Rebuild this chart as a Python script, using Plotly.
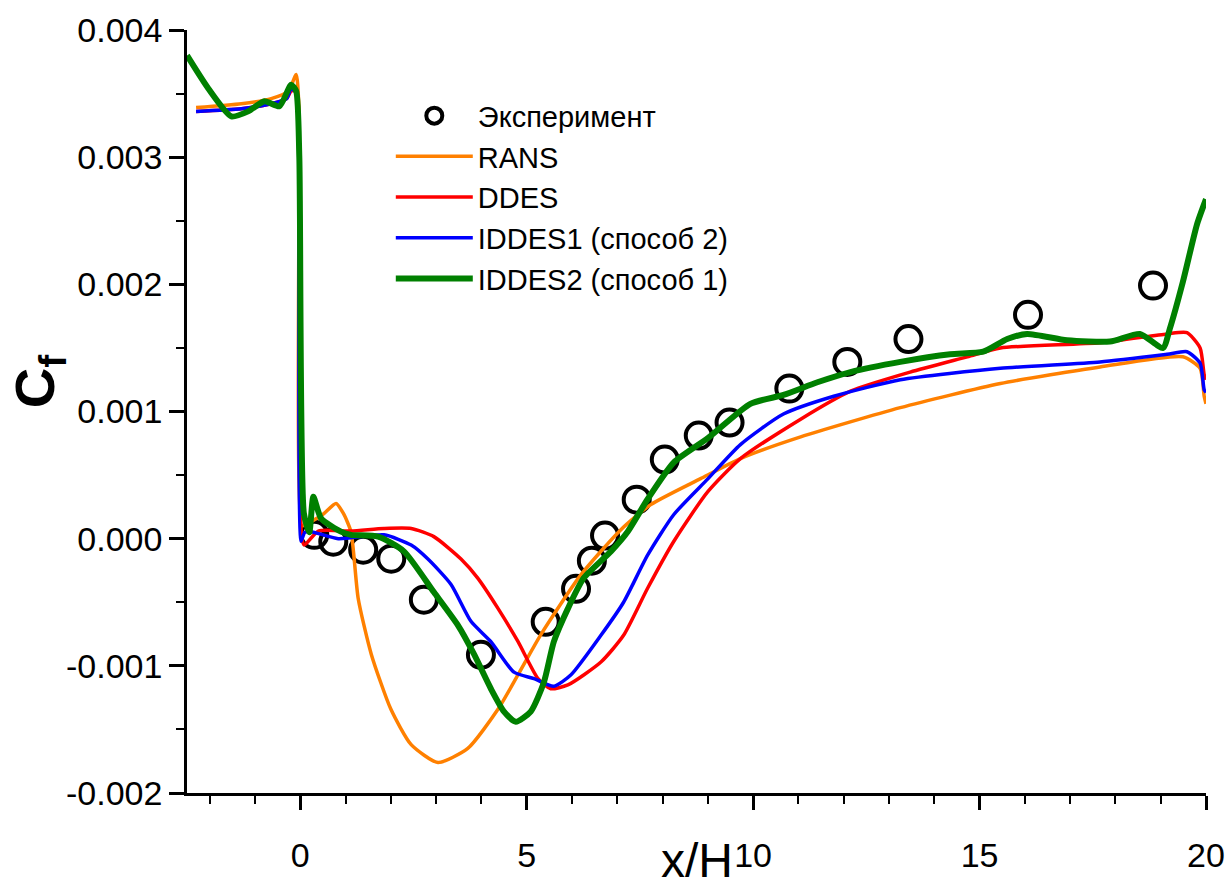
import plotly.graph_objects as go

# ---------------- data ----------------
exp_x = [0.31, 0.73, 1.39, 2.01, 2.73, 3.99, 5.42, 6.09, 6.44, 6.73, 7.43, 8.05, 8.80, 9.48, 10.80, 12.08, 13.43, 16.07, 18.83]
exp_cf = [0.00003, -0.000024, -0.000087, -0.000157, -0.00048, -0.000913, -0.000654, -0.000394, -0.000173, 0.000024,
          0.000307, 0.000622, 0.000811, 0.000913, 0.00118, 0.00139, 0.00157, 0.00176, 0.00199]

rans_x = [-2.3, -1.3, -0.64, -0.26, -0.09, -0.03, 0.03, 0.1, 0.24, 0.5, 0.79, 0.95, 1.12, 1.28, 1.57, 2.0, 2.45,
          3.04, 3.70, 4.37, 4.81, 5.31, 6.20, 7.08, 7.74, 8.84, 9.72, 11.05, 13.25, 15.46, 17.66, 19.49, 19.87, 19.96, 20.0]
rans_cf = [0.00339, 0.00342, 0.00346, 0.00352, 0.00365, 0.0034, 0.0001, 0.00011, 0.000134, 0.00019, 0.000276, 0.0002,
           0.000055, -0.00047, -0.00091, -0.00134, -0.00162, -0.00176, -0.00165, -0.00134, -0.00107, -0.000756,
           -0.000283, 0.000071, 0.000268, 0.000472, 0.00063, 0.0008, 0.00103, 0.00122, 0.00135, 0.00143, 0.00134,
           0.00112, 0.00106]

ddes_x = [-2.3, -1.3, -0.64, -0.3, -0.2, -0.08, -0.03, 0.03, 0.09, 0.4, 1.12, 1.85, 2.45, 2.95, 3.55, 3.92, 4.37,
          4.81, 5.25, 5.53, 5.91, 6.64, 7.14, 7.67, 8.25, 9.0, 9.72, 11.05, 12.15, 13.47, 14.73, 15.46, 17.66,
          19.14, 19.58, 19.87, 19.96, 20.0]
ddes_cf = [0.00336, 0.00338, 0.00342, 0.00346, 0.00352, 0.00352, 0.0033, 0.00002, -0.00005, 0.00006, 0.00006,
           0.00008, 0.00008, 0.000016, -0.00016, -0.00031, -0.00055, -0.00081, -0.0011, -0.00118, -0.00115,
           -0.00097, -0.00076, -0.00039, -0.00002, 0.00037, 0.00063, 0.00094, 0.00116, 0.00131, 0.00143, 0.0015,
           0.00154, 0.00161, 0.00162, 0.0015, 0.00129, 0.00125]

iddes1_x = [-2.3, -1.3, -0.64, -0.3, -0.2, -0.08, -0.03, 0.02, 0.1, 0.24, 0.84, 1.85, 2.45, 2.82, 3.33, 3.77, 4.21,
            4.72, 5.16, 5.6, 5.98, 6.64, 7.14, 7.67, 8.25, 9.0, 9.72, 10.67, 11.78, 13.25, 15.46, 17.66, 19.14,
            19.58, 19.87, 19.96, 20.0]
iddes1_cf = [0.00336, 0.00338, 0.00342, 0.00346, 0.00354, 0.0035, 0.0032, -0.00002, 0.00005, 0.000055, 0.0, 0.00003,
             -0.00005, -0.00016, -0.00036, -0.00065, -0.00081, -0.00105, -0.0011, -0.00116, -0.00107, -0.00076,
             -0.0005, -0.00013, 0.00019, 0.00047, 0.00074, 0.00098, 0.00112, 0.00125, 0.00134, 0.00139, 0.00145,
             0.00147, 0.00138, 0.00117, 0.00115]

iddes2_x = [-2.5, -2.03, -1.52, -1.15, -0.79, -0.46, -0.2, -0.09, -0.02, 0.08, 0.2, 0.29, 0.46, 0.9, 1.12, 1.72,
            2.29, 2.95, 3.48, 3.84, 4.21, 4.5, 4.76, 5.09, 5.38, 5.6, 5.91, 6.26, 6.86, 7.23, 7.67, 8.25, 9.0, 9.94,
            10.67, 11.42, 12.15, 13.25, 14.35, 15.08, 15.61, 16.05, 16.93, 17.88, 18.54, 19.05, 19.2, 19.49,
            19.8, 20.0]
iddes2_cf = [0.0038, 0.00354, 0.00332, 0.00336, 0.00344, 0.0034, 0.00357, 0.00352, 0.0030, 0.0002, 0.00005,
             0.00033, 0.00016, 0.000055, 0.00003, 0.000016, -0.0001, -0.00042, -0.00068, -0.00091, -0.00118,
             -0.00136, -0.00144, -0.00136, -0.00113, -0.00081, -0.00055, -0.00031, -0.0001, 0.000055, 0.00031,
             0.0006, 0.00079, 0.00106, 0.00113, 0.00123, 0.00131, 0.00139, 0.00145, 0.00147, 0.00157,
             0.00161, 0.00156, 0.00155, 0.00161, 0.0015, 0.00165, 0.00202, 0.00247, 0.00267]

y_tickvals = [-0.002, -0.001, 0.0, 0.001, 0.002, 0.003, 0.004]
y_ticktext = ["-0.002", "-0.001", "0.000", "0.001", "0.002", "0.003", "0.004"]
x_tickvals = [0, 5, 10, 15, 20]
x_ticktext = ["0", "5", "10", "15", "20"]

FONT = "Liberation Sans, Arial, sans-serif"

fig = go.Figure()
fig.add_trace(go.Scatter(x=exp_x, y=exp_cf, mode="markers", name="Эксперимент",
                         marker=dict(symbol="circle-open", size=26, color="black", line=dict(width=4, color="black"))))
fig.add_trace(go.Scatter(x=rans_x, y=rans_cf, mode="lines", name="RANS",
                         line=dict(color="rgb(255,128,0)", width=3.5, shape="spline", smoothing=0.6)))
fig.add_trace(go.Scatter(x=ddes_x, y=ddes_cf, mode="lines", name="DDES",
                         line=dict(color="rgb(255,0,0)", width=3.5, shape="spline", smoothing=0.6)))
fig.add_trace(go.Scatter(x=iddes1_x, y=iddes1_cf, mode="lines", name="IDDES1 (способ 2)",
                         line=dict(color="rgb(0,0,255)", width=3.5, shape="spline", smoothing=0.6)))
fig.add_trace(go.Scatter(x=iddes2_x, y=iddes2_cf, mode="lines", name="IDDES2 (способ 1)",
                         line=dict(color="rgb(0,128,0)", width=6, shape="spline", smoothing=0.6)))

fig.update_layout(
    width=1227, height=890,
    margin=dict(l=187, r=21, t=30, b=97, autoexpand=False),
    paper_bgcolor="white", plot_bgcolor="white",
    font=dict(family=FONT, color="black"),
    showlegend=True,
    legend=dict(x=0.2, y=0.921, xanchor="left", yanchor="top", bgcolor="rgba(0,0,0,0)",
                font=dict(size=29, family=FONT), itemwidth=77, traceorder="normal"),
    xaxis=dict(range=[-2.5, 20], automargin=False, showgrid=False, zeroline=False, showline=True, linecolor="black",
               linewidth=2.5, ticks="outside", ticklen=14, tickwidth=2.5, tickcolor="black",
               tickvals=x_tickvals, ticktext=x_ticktext, tickfont=dict(size=34, family=FONT),
               ticklabelstandoff=16,
               minor=dict(ticks="outside", ticklen=8, tickwidth=2, tickcolor="black", dtick=1, tick0=0, showgrid=False)),
    yaxis=dict(range=[-0.002, 0.004], automargin=False, showgrid=False, zeroline=False, showline=True, linecolor="black",
               linewidth=2.5, ticks="outside", ticklen=15, tickwidth=2.5, tickcolor="black",
               tickvals=y_tickvals, ticktext=y_ticktext, tickfont=dict(size=34, family=FONT),
               minor=dict(ticks="outside", ticklen=8, tickwidth=2, tickcolor="black", dtick=0.0005, tick0=0, showgrid=False)),
    annotations=[
        dict(text="<b>C<sub>f</sub></b>", textangle=-90, xref="paper", yref="paper",
             x=-0.145, y=0.54, xanchor="center", yanchor="middle", showarrow=False,
             font=dict(size=56, family=FONT, color="black")),
        dict(text="x/H", xref="paper", yref="paper", x=0.5, y=-0.1255, xanchor="center", yanchor="bottom",
             showarrow=False, font=dict(size=48, family=FONT, color="black")),
    ],
)

fig.write_html("out.html")
